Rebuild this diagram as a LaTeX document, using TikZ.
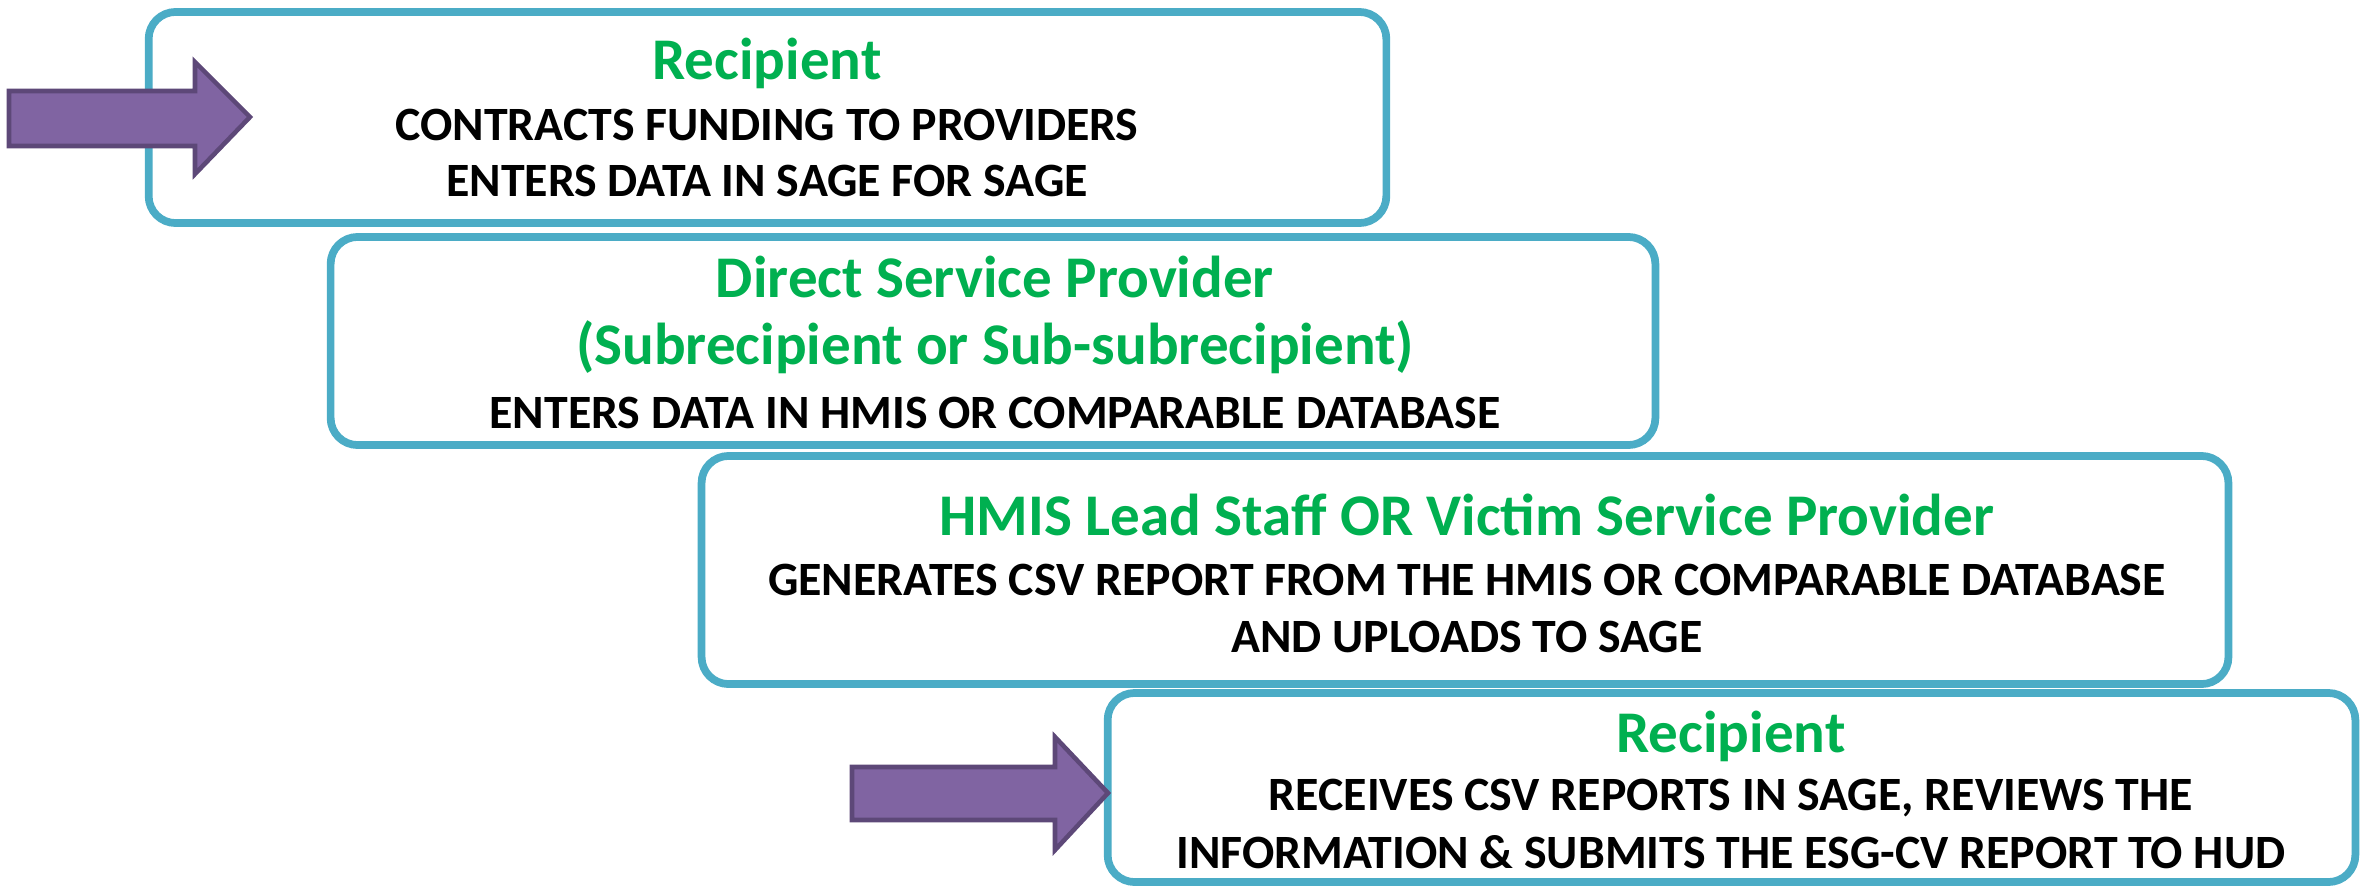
\documentclass[tikz,border=0pt]{standalone}
\usepackage{fontspec}
\setmainfont{Carlito}
\usepackage{tikz}
\usetikzlibrary{positioning,calc}
\definecolor{boxblue}{RGB}{75,172,198}
\definecolor{titlegreen}{RGB}{0,176,80}
\definecolor{arrowfill}{RGB}{128,100,162}
\definecolor{arrowline}{RGB}{93,72,120}
\tikzstyle{bigarrow} = [fill=arrowfill, draw=arrowline, line width=1.3pt, line join=miter]

\begin{document}
\begin{tikzpicture}[x=0.01cm, y=-0.01cm,
	stage/.style={draw=boxblue, line width=2.2pt, fill=white, rounded corners=0.27cm, inner sep=0pt},
	heading/.style={anchor=base, inner sep=0pt, text=titlegreen, font=\fontsize{16.8}{18}\selectfont\bfseries},
	task/.style={anchor=base, inner sep=0pt, font=\fontsize{13.6}{15}\selectfont\bfseries}]
	\useasboundingbox (0,0) rectangle (2367,888);
	
	% STAGES
	
	\node [stage, minimum width=12.37cm, minimum height=2.11cm] (recipient) at (767.5,117.5) {};
	\node [heading] (recipienttitle) at (767,80) {Recipient};
	\node [task] (contracts) at (767,140) {CONTRACTS FUNDING TO PROVIDERS};
	\node [task] (enterssage) at (767,197) {ENTERS DATA IN SAGE FOR SAGE};
	
	\node [stage, minimum width=13.24cm, minimum height=2.08cm] (provider) at (993,341) {};
	\node [heading] (providertitle) at (995,297) {Direct Service Provider};
	\node [heading] (providersub) at (995,364) {(Subrecipient or Sub-subrecipient)};
	\node [task] (entershmis) at (995,428) {ENTERS DATA IN HMIS OR COMPARABLE DATABASE};
	
	\node [stage, minimum width=15.26cm, minimum height=2.28cm] (hmis) at (1465,570) {};
	\node [heading] (hmistitle) at (1467,535) {HMIS Lead Staff OR Victim Service Provider};
	\node [task] (generates) at (1467,595) {GENERATES CSV REPORT FROM THE HMIS OR COMPARABLE DATABASE};
	\node [task] (uploads) at (1467,652) {AND UPLOADS TO SAGE};
	
	\node [stage, minimum width=12.47cm, minimum height=1.89cm] (final) at (1731.5,787.5) {};
	\node [heading] (finaltitle) at (1731,752) {Recipient};
	\node [task] (receives) at (1731,810) {RECEIVES CSV REPORTS IN SAGE, REVIEWS THE};
	\node [task] (submits) at (1731,868) {INFORMATION \& SUBMITS THE ESG-CV REPORT TO HUD};
	
	% ARROWS
	
	\draw [bigarrow] (9,91) -- (195,91) -- (195,62) -- (250,117) -- (195,174) -- (195,146) -- (9,146) -- cycle;
	\draw [bigarrow] (852,767) -- (1055,767) -- (1055,737) -- (1108,793) -- (1055,850) -- (1055,820) -- (852,820) -- cycle;
	
\end{tikzpicture}
\end{document}
